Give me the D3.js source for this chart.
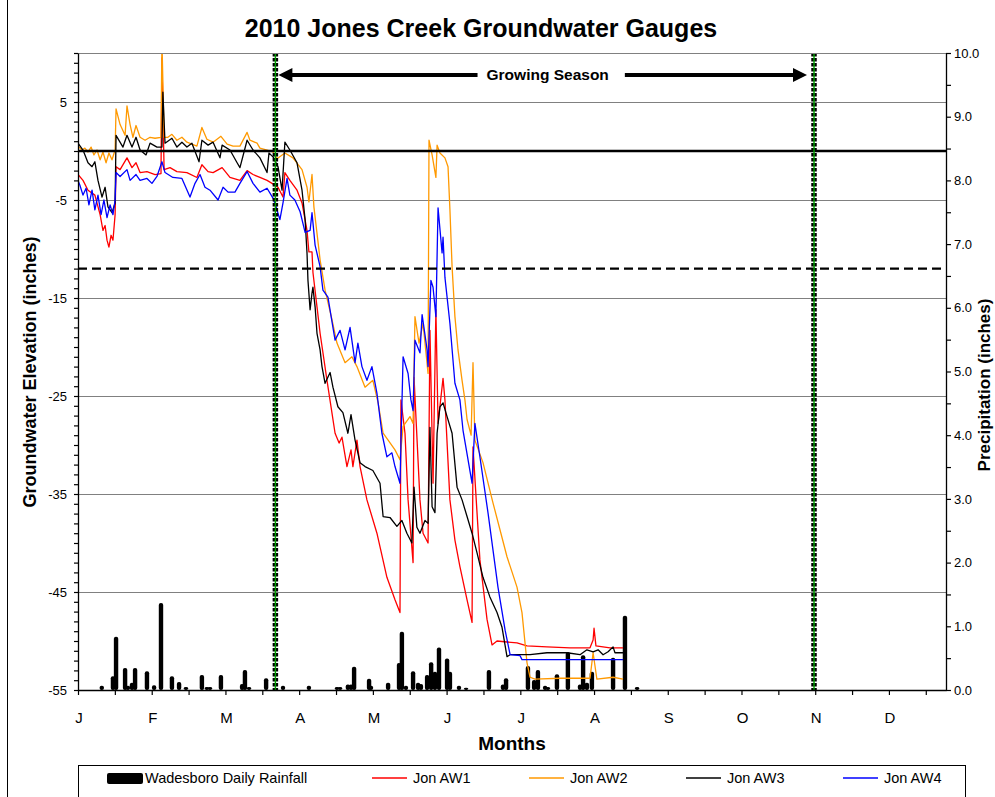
<!DOCTYPE html>
<html>
<head>
<meta charset="utf-8">
<script src="https://cdnjs.cloudflare.com/ajax/libs/d3/7.8.5/d3.min.js"></script>
<style>
  body { margin: 0; background: #fff; }
  svg { display: block; font-family: Arial, 'Liberation Sans', sans-serif; }
</style>
</head>
<body>
<div id="chart"></div>
<script>
(() => {
'use strict';

// ---- data (day of year 2010, inches) ----
const MONTHS = ['J', 'F', 'M', 'A', 'M', 'J', 'J', 'A', 'S', 'O', 'N', 'D'];
const MONTH_POS = [0, 31, 62, 93, 124, 155, 186, 217, 248, 279, 310, 341];
const LEFT_LABELS = [5, -5, -15, -25, -35, -45, -55];
const GRID_VALUES = [10, 5, -5, -15, -25, -35, -45];
const GROUND_SURFACE = 0;
const THRESHOLD = -12;
const GROWING_SEASON = [83, 309.5];

const RAIN_DAY = [10, 14.7, 16, 19.8, 21, 22.7, 24, 29, 32, 34.9, 39.5, 42.5, 45.4, 52.1, 54.2, 55.5, 60.1,
  69, 70.2, 71.9, 79.1, 86.2, 97.1, 108.9, 110.2, 113.5, 114.8, 116.1, 122.4, 123.2, 130.4, 135, 136.2,
  137.9, 140.9, 143, 144.2, 146.8, 148.5, 150.1, 151.8, 155.2, 156.4, 160.2, 163.2, 172.8, 178.7, 180,
  189.2, 191.8, 193.4, 196.4, 197.6, 201.4, 206, 211.1, 212.4, 214, 216.1, 225, 230, 235.1];
const RAIN_IN = [0.05, 0.2, 0.82, 0.33, 0.05, 0.1, 0.33, 0.28, 0.06, 1.35, 0.2, 0.11, 0.03, 0.22, 0.03, 0.03, 0.22,
  0.08, 0.3, 0.03, 0.17, 0.05, 0.05, 0.03, 0.03, 0.07, 0.07, 0.35, 0.16, 0.05, 0.1, 0.41, 0.9,
  0.05, 0.28, 0.1, 0.08, 0.22, 0.42, 0.27, 0.65, 0.48, 0.27, 0.05, 0.02, 0.3, 0.07, 0.17,
  0.36, 0.14, 0.3, 0.05, 0.03, 0.23, 0.58, 0.07, 0.53, 0.1, 0.27, 0.49, 1.15, 0.03];

const AW1 = [[0,-2.4],[2.1,-3],[4.2,-4],[7.1,-4.5],[9.3,-6.5],[10.5,-8.1],[11.4,-7.6],[12.2,-9.1],[13,-9.8],
  [13.9,-8.6],[14.7,-9.1],[15.6,-6.5],[16,-1.6],[17.7,-1.9],[20.6,-0.7],[22.7,-1.7],[24.4,-1.2],[26.1,-2.2],
  [29,-2.1],[32.4,-2.4],[34.9,-2.3],[35.3,9.5],[36.2,-1.9],[38.7,-1.7],[41.6,-2.1],[45.8,-2.2],[50,-2.7],
  [52.1,-1.4],[54.7,-2.1],[56.8,-2.2],[60.6,-1.7],[63.9,-2.7],[68.1,-3],[71.1,-2],[73.6,-2.4],[76.5,-2.7],
  [79.5,-3],[81.6,-3.3],[84.1,-3.7],[86.2,-4.7],[87,-2.2],[89.1,-3],[92.1,-4],[94.2,-5.3],[96.3,-8.1],
  [97.1,-10.3],[98.4,-10.3],[98.8,-12.4],[100.5,-15.9],[101.8,-18.6],[104.7,-23.4],[108.1,-28.8],
  [109.8,-29.8],[111,-29.2],[113.1,-32.2],[114.8,-30.5],[115.6,-32.2],[117.3,-29.5],[118.6,-32.2],
  [121.5,-35.6],[125.7,-39],[129.9,-43.5],[133.3,-45.8],[135.4,-47.1],[135.8,-25.4],[137.5,-28.8],
  [138.8,-35.6],[140.9,-42],[141.3,-23.1],[143.8,-35.6],[145.1,-39],[147.2,-40],[148,-18.3],[149.3,-33.9],
  [150.5,-16.2],[151.4,-27.8],[153.5,-23.2],[154.3,-25.4],[156.4,-35.6],[158.5,-39.7],[160.6,-42.4],
  [163.6,-45.8],[165.7,-48.1],[166.1,-30.2],[169,-41.7],[172,-47.8],[174.1,-50.4],[176.2,-50],[180.4,-50.1],
  [184.6,-50.2],[188.8,-50.5],[197.2,-50.6],[206.9,-50.7],[215.3,-50.7],[216.6,-49.9],[217,-48.7],
  [217.8,-50.5],[223.7,-50.7],[229.2,-50.7]];

const AW2 = [[0,0.5],[1.7,0.1],[2.9,0.3],[4.2,-0.1],[5.5,0.4],[6.7,-0.4],[8,0.1],[9.3,-0.9],[10.5,-0.1],
  [11.8,-1.2],[13,-0.2],[14.3,-0.9],[15.6,0.1],[16,4.3],[17.7,2.7],[19.8,1.6],[20.6,4.6],[21.9,2.7],
  [23.1,1.4],[24.4,2.6],[26.1,1.4],[28.2,1.1],[30.3,1.4],[32.4,1.3],[34.9,1.4],[35.3,11.3],[36.2,1.4],
  [37.8,1.4],[39.5,1.7],[41.6,1.1],[43.7,1.4],[45.8,0.9],[50,0.5],[52.1,2.4],[54.2,1.2],[56.8,0.9],
  [60.1,1.5],[62.7,0.7],[65.2,0.5],[68.1,0.5],[71.1,1.9],[72.3,1.1],[75.3,0.8],[76.5,0.3],[79.5,0.1],
  [82,-0.1],[83.7,-0.8],[87,-0.2],[90.4,-0.7],[94.2,-1.9],[96.3,-3.7],[97.1,-5.2],[98.4,-2.4],[99.2,-5.7],
  [101.8,-11.1],[103.9,-14.2],[106.8,-17.2],[108.9,-19.6],[112.3,-21.6],[115.2,-21],[117.3,-22],
  [120.7,-24.1],[124,-23.4],[126.2,-25.7],[128.3,-28.8],[130.4,-29.5],[133.3,-30.5],[135.4,-31.5],
  [136.7,-28.1],[139.6,-27.1],[140.9,-27.8],[141.7,-16.9],[143.4,-19.6],[145.1,-17.6],[147.2,-22.7],
  [147.6,1.1],[148.9,-0.4],[150.5,-2.7],[151,0.6],[152.2,-0.2],[154.3,-0.7],[155.6,-1.6],[156.4,-6],
  [157.3,-11.8],[158.5,-16.9],[159.8,-20.3],[161.5,-23.4],[162.7,-25.4],[163.6,-27.4],[165.3,-29],
  [166.1,-21.6],[166.9,-29.5],[170.3,-31.8],[174.5,-35.9],[180.4,-41.4],[184.6,-44.5],[186.7,-47.1],
  [188.8,-52.2],[190.1,-53.7],[192.2,-53.9],[202.7,-53.8],[215.3,-53.8],[216.6,-51.2],[218.2,-53.9],
  [225,-53.7],[229.2,-53.9]];

const AW3 = [[0,0.8],[2.1,0.1],[4.2,-1.2],[5.9,-1.6],[7.1,-1.1],[8.4,-3],[10.1,-4.7],[11.4,-3.7],[12.6,-5.7],
  [14.3,-6.3],[15.6,-5.3],[16,1.6],[18.9,0.4],[20.6,1.6],[22.7,0.4],[24.4,1.4],[26.1,0.1],[28.6,-0.4],
  [30.3,0.8],[33.2,0.4],[35.3,0.4],[35.7,6],[36.6,0.8],[39.5,1.3],[41.6,0.4],[43.7,0.9],[45.8,0.4],
  [47.9,0.8],[50.9,-1.1],[52.1,1.1],[54.7,0.6],[56.8,0.9],[59.7,-0.7],[60.6,0.6],[63.9,0.1],[66.9,-1.2],
  [68.1,-1.7],[71.1,1.1],[73.6,0.1],[76.5,-0.7],[79.5,-2.2],[80.3,-0.2],[82,-0.6],[84.1,-1.6],[85.8,-4],
  [87,0.9],[89.1,0.1],[92.1,-1.2],[94.2,-4],[95.5,-7],[96.3,-10.4],[96.7,-13.2],[97.6,-16.2],[98.4,-14.5],
  [98.8,-13.9],[99.7,-15.9],[100.5,-18.6],[101.8,-20.3],[102.6,-22],[103.9,-23.7],[106,-22.6],[107.2,-24.1],
  [109.3,-26.1],[111.4,-26.7],[113.5,-28.8],[114.8,-26.9],[116.5,-29.5],[118.6,-31.8],[120.7,-32.2],
  [124,-32.6],[127,-33.9],[128.3,-37.3],[131.2,-37.4],[134.1,-38.3],[136.2,-37.7],[138.3,-39],[140.4,-40],
  [141.3,-34.3],[142.5,-38.4],[143.8,-39],[145.9,-37.7],[147.2,-38],[148,-28.2],[148.9,-36.3],[150.1,-36.9],
  [151,-28.8],[152.2,-26.1],[153.5,-25.7],[155.2,-27.1],[157.3,-28.8],[159.4,-34.3],[161.5,-35.6],
  [163.6,-37.3],[165.7,-39],[167.8,-41],[170.3,-43.5],[173.2,-45.5],[176.2,-47.1],[178.3,-48.6],
  [180.4,-51.6],[181.7,-51.4],[190.1,-51.4],[197.2,-51.2],[205.6,-51.2],[211.1,-51.4],[214,-50.9],
  [216.6,-51.1],[218.7,-50.9],[220.8,-51.4],[222.9,-51.1],[225,-50.6],[225.8,-51.2],[229.2,-51.2]];

const AW4 = [[0,-3],[0.8,-3.5],[2.1,-4.5],[3.4,-3.8],[4.6,-5.5],[5.9,-4],[7.1,-6],[8.4,-4.5],[9.7,-6.5],
  [10.9,-5],[12.2,-6.8],[13.5,-5.5],[14.7,-6.5],[15.6,-5],[16,-2.2],[17.7,-2.6],[20.6,-1.9],[21.9,-3],
  [24.4,-2.4],[26.1,-3],[29,-2.8],[31.1,-3.3],[33.2,-2.6],[35.3,-1.1],[36.6,-2.2],[39.9,-2.7],[43.7,-2.8],
  [47.1,-4.7],[49.2,-3.3],[51.3,-2.4],[53.4,-3.7],[55.5,-4],[58.9,-5],[61,-3.7],[63.1,-4.2],[66,-4.2],
  [68.1,-3.3],[71.1,-2.1],[73.6,-3.3],[76.5,-4.2],[79.5,-3.8],[82,-4.8],[83.3,-5.7],[84.9,-7],[86.2,-5.3],
  [87.9,-2.8],[89.1,-4.5],[91.2,-5],[93.4,-6.2],[95.5,-8.3],[97.6,-8.1],[98.4,-6.3],[99.7,-9.6],
  [101.8,-11.8],[103,-14.2],[105.1,-14.9],[107.2,-18],[108.1,-19.3],[110.2,-18.3],[112.3,-20.3],
  [114.4,-18],[116.5,-21.6],[117.7,-19.6],[119.4,-22],[121.5,-23.4],[123.6,-22],[125.7,-24.7],
  [127.8,-28.8],[129.9,-31.2],[132,-30.8],[133.3,-32.2],[135.4,-33.9],[136.7,-21],[138.8,-22.7],
  [140,-25.4],[140.9,-26.5],[141.7,-19.3],[143.8,-20.6],[144.7,-16.7],[146.8,-20.3],[147.2,-22],
  [148.4,-13.2],[149.3,-13.9],[150.5,-16.9],[151.4,-5.8],[153.1,-10.4],[153.5,-8.8],[154.3,-12.9],
  [156.4,-17.6],[158.5,-23.7],[160.6,-25.4],[161.9,-28.5],[165.7,-33.9],[166.9,-27.8],[169,-31.2],
  [172.4,-36.9],[176.6,-44.5],[179.6,-48.9],[181.7,-51.4],[185.9,-51.5],[186.7,-51.9],[197.2,-51.9],
  [218.2,-51.9],[229.2,-51.9]];

const SERIES = [
  { name: 'Jon AW1', color: '#ff0000', values: AW1 },
  { name: 'Jon AW2', color: '#ff9900', values: AW2 },
  { name: 'Jon AW3', color: '#000000', values: AW3 },
  { name: 'Jon AW4', color: '#0000ff', values: AW4 }
];

// ---- layout ----
const WIDTH = 995;
const HEIGHT = 797;
const PLOT = { left: 78, right: 946, top: 53, bottom: 690 };
const FONT = 'Arial, "Liberation Sans", sans-serif';

const svg = d3.select('#chart')
  .append('svg')
  .attr('width', WIDTH)
  .attr('height', HEIGHT);

const x = d3.scaleLinear().domain([0, 365]).range([PLOT.left, PLOT.right]);
const yL = d3.scaleLinear().domain([-55, 10]).range([PLOT.bottom, PLOT.top]);
const yR = d3.scaleLinear().domain([0, 10]).range([PLOT.bottom, PLOT.top]);

// outer chart border
svg.append('line')
  .attr('x1', 7.5).attr('x2', 7.5).attr('y1', 0).attr('y2', HEIGHT)
  .attr('stroke', '#000').attr('stroke-width', 1);

svg.append('clipPath').attr('id', 'plot-clip')
  .append('rect')
  .attr('x', PLOT.left).attr('y', PLOT.top)
  .attr('width', PLOT.right - PLOT.left).attr('height', PLOT.bottom - PLOT.top);

// gridlines
svg.append('g')
  .selectAll('line')
  .data(GRID_VALUES)
  .join('line')
    .attr('x1', PLOT.left).attr('x2', PLOT.right)
    .attr('y1', d => Math.round(yL(d)) + 0.5).attr('y2', d => Math.round(yL(d)) + 0.5)
    .attr('stroke', '#808080').attr('stroke-width', 1.2);

// rainfall
svg.append('g')
  .selectAll('rect')
  .data(RAIN_DAY.map((d, i) => [d, RAIN_IN[i]]))
  .join('rect')
    .attr('x', d => x(d[0]) - 2.2)
    .attr('width', 4.4)
    .attr('y', d => yR(d[1]) - 1)
    .attr('height', d => yR(0) - yR(d[1]) + 1)
    .attr('rx', 2)
    .attr('fill', '#000');

// groundwater series
const line = d3.line()
  .x(d => x(d[0]))
  .y(d => yL(d[1]));

svg.append('g')
  .attr('clip-path', 'url(#plot-clip)')
  .selectAll('path')
  .data(SERIES)
  .join('path')
    .attr('d', d => line(d.values))
    .attr('fill', 'none')
    .attr('stroke', d => d.color)
    .attr('stroke-width', 1.3)
    .attr('stroke-linejoin', 'round');

// ground surface and threshold lines
svg.append('line')
  .attr('x1', PLOT.left).attr('x2', PLOT.right)
  .attr('y1', yL(GROUND_SURFACE)).attr('y2', yL(GROUND_SURFACE))
  .attr('stroke', '#000').attr('stroke-width', 2.5);

svg.append('line')
  .attr('x1', PLOT.left).attr('x2', PLOT.right)
  .attr('y1', yL(THRESHOLD)).attr('y2', yL(THRESHOLD))
  .attr('stroke', '#000').attr('stroke-width', 2.2)
  .attr('stroke-dasharray', '9,5');

// growing season markers
const season = svg.append('g');
season.selectAll('line.edge')
  .data(GROWING_SEASON)
  .join('line')
    .attr('class', 'edge')
    .attr('x1', d => x(d)).attr('x2', d => x(d))
    .attr('y1', PLOT.top).attr('y2', PLOT.bottom)
    .attr('stroke', '#000').attr('stroke-width', 5.5)
    .attr('stroke-dasharray', '3.5,1.5');
season.selectAll('line.core')
  .data(GROWING_SEASON)
  .join('line')
    .attr('class', 'core')
    .attr('x1', d => x(d)).attr('x2', d => x(d))
    .attr('y1', PLOT.top).attr('y2', PLOT.bottom)
    .attr('stroke', '#00a000').attr('stroke-width', 1.4);

const arrowY = 75;
const labelX = x(d3.mean(GROWING_SEASON)) + 3;
const seasonLabel = season.append('text')
  .attr('x', labelX)
  .attr('y', arrowY)
  .attr('dy', '0.35em')
  .attr('text-anchor', 'middle')
  .style('font-size', '15.5px')
  .style('font-weight', 'bold')
  .text('Growing Season');

const labelHalf = seasonLabel.node().getComputedTextLength() / 2;
const leftTip = x(GROWING_SEASON[0]) + 3;
const rightTip = x(GROWING_SEASON[1]) - 7;

season.append('line')
  .attr('x1', leftTip + 10).attr('x2', labelX - labelHalf - 9)
  .attr('y1', arrowY).attr('y2', arrowY)
  .attr('stroke', '#000').attr('stroke-width', 4.2);
season.append('line')
  .attr('x1', labelX + labelHalf + 16).attr('x2', rightTip - 10)
  .attr('y1', arrowY).attr('y2', arrowY)
  .attr('stroke', '#000').attr('stroke-width', 4.2);
season.append('path')
  .attr('d', `M${leftTip},${arrowY} L${leftTip + 14},${arrowY - 7} L${leftTip + 14},${arrowY + 7} Z`)
  .attr('fill', '#000');
season.append('path')
  .attr('d', `M${rightTip},${arrowY} L${rightTip - 14},${arrowY - 7} L${rightTip - 14},${arrowY + 7} Z`)
  .attr('fill', '#000');

// top frame
svg.append('line')
  .attr('x1', PLOT.left).attr('x2', PLOT.right)
  .attr('y1', PLOT.top + 0.5).attr('y2', PLOT.top + 0.5)
  .attr('stroke', '#808080').attr('stroke-width', 1.2);

// axes
const leftAxis = d3.axisLeft(yL)
  .tickValues(d3.range(-55, 11, 1))
  .tickFormat(d => LEFT_LABELS.includes(d) ? String(d) : '')
  .tickSize(4).tickSizeOuter(0).tickPadding(7);

const rightAxis = d3.axisRight(yR)
  .tickValues(d3.range(0, 10.01, 0.5))
  .tickFormat(d => d % 1 === 0 ? d.toFixed(1) : '')
  .tickSize(5).tickSizeOuter(0).tickPadding(3);

const bottomAxis = d3.axisBottom(x)
  .tickValues(d3.range(0, 360, 15.5))
  .tickFormat('')
  .tickSize(5).tickSizeOuter(0);

const styleAxis = (g) => {
  g.select('.domain').attr('stroke', '#000').attr('stroke-width', 1.3);
  g.selectAll('.tick line').attr('stroke', '#000').attr('stroke-width', 1.2);
  g.selectAll('.tick text')
    .attr('fill', '#000')
    .style('font-family', FONT)
    .style('font-size', '13px');
};

svg.append('g')
  .attr('transform', `translate(${PLOT.left}, 0)`)
  .call(leftAxis)
  .call(styleAxis);

svg.append('g')
  .attr('transform', `translate(${PLOT.right}, 0)`)
  .call(rightAxis)
  .call(styleAxis);

svg.append('g')
  .attr('transform', `translate(0, ${PLOT.bottom})`)
  .call(bottomAxis)
  .call(styleAxis);

svg.append('g')
  .selectAll('text')
  .data(MONTHS)
  .join('text')
    .attr('x', (d, i) => x(MONTH_POS[i]) + 1)
    .attr('y', 718)
    .attr('dy', '0.35em')
    .attr('text-anchor', 'middle')
    .style('font-size', '15px')
    .text(d => d);

// titles
svg.append('text')
  .attr('x', 481).attr('y', 28)
  .attr('dy', '0.35em')
  .attr('text-anchor', 'middle')
  .style('font-size', '25px')
  .style('font-weight', 'bold')
  .text('2010 Jones Creek Groundwater Gauges');

svg.append('text')
  .attr('transform', 'translate(30, 372) rotate(-90)')
  .attr('dy', '0.35em')
  .attr('text-anchor', 'middle')
  .style('font-size', '18px')
  .style('font-weight', 'bold')
  .text('Groundwater Elevation (inches)');

svg.append('text')
  .attr('transform', 'translate(984, 385) rotate(-90)')
  .attr('dy', '0.35em')
  .attr('text-anchor', 'middle')
  .style('font-size', '17px')
  .style('font-weight', 'bold')
  .text('Precipitation (inches)');

svg.append('text')
  .attr('x', 512).attr('y', 743)
  .attr('dy', '0.35em')
  .attr('text-anchor', 'middle')
  .style('font-size', '19px')
  .style('font-weight', 'bold')
  .text('Months');

// legend
const legend = svg.append('g');
legend.append('rect')
  .attr('x', 78.5).attr('y', 765.5)
  .attr('width', 887).attr('height', 60)
  .attr('fill', '#fff')
  .attr('stroke', '#000').attr('stroke-width', 1);

const legendItems = [{ name: 'Wadesboro Daily Rainfall', color: '#000', bar: true }].concat(SERIES);
const item = legend.selectAll('g.item')
  .data(legendItems)
  .join('g')
    .attr('class', 'item')
    .attr('transform', (d, i) => `translate(${i === 0 ? 107 : 215 + i * 157}, 778)`);

item.filter(d => d.bar)
  .append('rect')
    .attr('x', 0).attr('y', -5)
    .attr('width', 36).attr('height', 11)
    .attr('rx', 2)
    .attr('fill', '#000');

item.filter(d => !d.bar)
  .append('line')
    .attr('x1', 0).attr('x2', 35)
    .attr('stroke', d => d.color)
    .attr('stroke-width', 1.3);

item.append('text')
  .attr('x', d => d.bar ? 38 : 41)
  .attr('dy', '0.35em')
  .style('font-size', '14.5px')
  .text(d => d.name);

})();
</script>
</body>
</html>
